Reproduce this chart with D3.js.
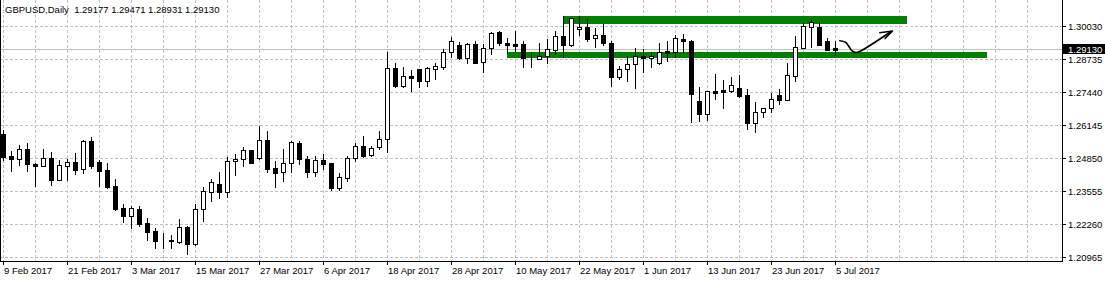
<!DOCTYPE html>
<html>
<head>
<meta charset="utf-8">
<script src="https://cdn.jsdelivr.net/npm/d3@7"></script>
<style>
  html, body { margin: 0; padding: 0; background: #fff; }
  svg { display: block; }
  text { font-family: "Liberation Sans", Arial, sans-serif; font-size: 9.5px; fill: #000; }
</style>
</head>
<body>
<svg id="chart"></svg>
<script>
// GBPUSD daily bars, 9 Feb 2017 .. 5 Jul 2017
var opens = [
  1.25805, 1.24939, 1.24809, 1.25203, 1.24624, 1.24534, 1.24849, 1.24006, 1.24557, 1.24691,
  1.24416, 1.25530, 1.24691, 1.24388, 1.23758, 1.22880, 1.22589, 1.22853, 1.22290, 1.21987,
  1.21632, 1.21632, 1.21542, 1.22156, 1.21463, 1.22841, 1.23522, 1.23837, 1.23510, 1.24731,
  1.24809, 1.25164, 1.24861, 1.25557, 1.24455, 1.24298, 1.24652, 1.25451, 1.24809, 1.24321,
  1.24770, 1.24676, 1.23691, 1.24085, 1.24849, 1.25321, 1.24979, 1.25282, 1.25597, 1.28392,
  1.27707, 1.28089, 1.28365, 1.27904, 1.28376, 1.28455, 1.29022, 1.29309, 1.28809, 1.29349,
  1.28621, 1.29179, 1.29809, 1.29388, 1.29349, 1.29349, 1.28809, 1.28770, 1.28876, 1.29124,
  1.29664, 1.29321, 1.29928, 1.30006, 1.29573, 1.29703, 1.29376, 1.28038, 1.28353, 1.28550,
  1.28876, 1.28786, 1.28589, 1.29073, 1.29046, 1.29534, 1.29479, 1.27105, 1.26581, 1.27498,
  1.27538, 1.27510, 1.27605, 1.27341, 1.26227, 1.26660, 1.26817, 1.27329, 1.27144, 1.28101,
  1.29203, 1.30006, 1.30006, 1.29467, 1.29177
];
var highs = [
  1.25963, 1.25148, 1.25372, 1.25439, 1.24664, 1.25203, 1.25085, 1.24782, 1.24809, 1.25046,
  1.25569, 1.25699, 1.24782, 1.24676, 1.24034, 1.23050, 1.22971, 1.22971, 1.22510, 1.22117,
  1.21896, 1.21829, 1.22459, 1.22183, 1.23038, 1.23731, 1.24034, 1.24321, 1.24900, 1.25018,
  1.25305, 1.25164, 1.26120, 1.25924, 1.24754, 1.25215, 1.25530, 1.25530, 1.24939, 1.24939,
  1.25030, 1.24676, 1.24282, 1.24939, 1.25439, 1.25715, 1.25333, 1.25924, 1.29046, 1.28613,
  1.28455, 1.28325, 1.28365, 1.28455, 1.28613, 1.29152, 1.29636, 1.29416, 1.29400, 1.29467,
  1.29330, 1.29821, 1.29872, 1.29573, 1.29861, 1.29467, 1.29034, 1.29400, 1.29534, 1.29872,
  1.30451, 1.30361, 1.30451, 1.30333, 1.29967, 1.30136, 1.29479, 1.28483, 1.28876, 1.29179,
  1.29140, 1.29022, 1.29376, 1.29467, 1.29703, 1.29742, 1.29490, 1.27668, 1.27498, 1.28168,
  1.27931, 1.28061, 1.28128, 1.27577, 1.27053, 1.26817, 1.27408, 1.27565, 1.28589, 1.29664,
  1.30164, 1.30294, 1.30227, 1.29573, 1.29471
];
var lows = [
  1.24782, 1.24360, 1.24585, 1.24360, 1.23770, 1.24534, 1.23798, 1.23994, 1.23994, 1.24219,
  1.24258, 1.24455, 1.23770, 1.23679, 1.22813, 1.22353, 1.22093, 1.22183, 1.21632, 1.21329,
  1.21305, 1.21329, 1.21530, 1.21069, 1.21450, 1.22392, 1.23179, 1.23298, 1.23337, 1.24191,
  1.24557, 1.24652, 1.24833, 1.24321, 1.23731, 1.23967, 1.24298, 1.24612, 1.24124, 1.24164,
  1.24428, 1.23601, 1.23601, 1.23967, 1.24754, 1.24900, 1.24951, 1.25203, 1.25109, 1.27668,
  1.27668, 1.27498, 1.27668, 1.27707, 1.27971, 1.28365, 1.28849, 1.28758, 1.28613, 1.28600,
  1.28258, 1.28955, 1.29298, 1.28983, 1.29085, 1.28455, 1.28431, 1.28760, 1.28613, 1.28955,
  1.28849, 1.29270, 1.29703, 1.29479, 1.29242, 1.29309, 1.27707, 1.27971, 1.27904, 1.27628,
  1.28258, 1.28431, 1.28580, 1.28691, 1.28849, 1.29046, 1.26290, 1.26317, 1.26357, 1.27183,
  1.26841, 1.27471, 1.27274, 1.25991, 1.25896, 1.26486, 1.26683, 1.26987, 1.27130, 1.27904,
  1.29190, 1.29219, 1.29300, 1.29100, 1.28931
];
var closes = [
  1.24912, 1.24809, 1.25203, 1.24612, 1.24534, 1.24849, 1.23994, 1.24585, 1.24691, 1.24388,
  1.25530, 1.24557, 1.24360, 1.23707, 1.22841, 1.22589, 1.22880, 1.22262, 1.21959, 1.21605,
  1.21640, 1.21581, 1.22132, 1.21463, 1.22841, 1.23561, 1.23916, 1.23534, 1.24742, 1.24809,
  1.25164, 1.24676, 1.25557, 1.24428, 1.24282, 1.24664, 1.25479, 1.24809, 1.24321, 1.24770,
  1.24636, 1.23668, 1.24101, 1.24849, 1.25321, 1.24951, 1.25254, 1.25609, 1.28392, 1.27707,
  1.28089, 1.28022, 1.27904, 1.28392, 1.28471, 1.29022, 1.29467, 1.28809, 1.29349, 1.28613,
  1.29179, 1.29770, 1.29376, 1.29321, 1.29282, 1.28809, 1.28815, 1.28888, 1.29152, 1.29664,
  1.29321, 1.30361, 1.30006, 1.29546, 1.29691, 1.29376, 1.28038, 1.28353, 1.28550, 1.28876,
  1.28786, 1.28865, 1.29022, 1.29006, 1.29573, 1.29479, 1.27368, 1.26581, 1.27498, 1.27431,
  1.27479, 1.27723, 1.27313, 1.26250, 1.26660, 1.26817, 1.27172, 1.27144, 1.28116, 1.29219,
  1.30057, 1.30227, 1.29309, 1.29113, 1.29130
];

var priceTicks = [1.30030, 1.28735, 1.27440, 1.26145, 1.24850, 1.23555, 1.22260, 1.20965];
var dateTicks = ['9 Feb 2017', '21 Feb 2017', '3 Mar 2017', '15 Mar 2017', '27 Mar 2017',
  '6 Apr 2017', '18 Apr 2017', '28 Apr 2017', '10 May 2017', '22 May 2017', '1 Jun 2017',
  '13 Jun 2017', '23 Jun 2017', '5 Jul 2017'];
var lastPrice = 1.29130;

// rectangles drawn on the chart (support / resistance)
var zoneStart = ['9 May 2017', '18 May 2017'];
var zoneEnd = ['1 Aug 2017', '18 Jul 2017'];
var zoneTop = [1.29034, 1.30451];
var zoneBottom = [1.28797, 1.30136];

// hand drawn arrow, in bar index / price
var arrowLine = [[104.6, 1.29479], [105.3, 1.29420], [105.7, 1.29270], [106.1, 1.29085],
  [106.5, 1.29020], [106.9, 1.29030], [111.0, 1.29840]];
var arrowHead = [[109.6, 1.29794], [111.2, 1.29861], [110.25, 1.29573]];

var W = 1105, H = 282;
var plotRight = 1062, plotBottom = 261;

// business days from the first bar on
var fmt = d3.timeFormat('%-d %b %Y');
var days = d3.timeDays(new Date(2017, 1, 9), new Date(2017, 8, 1))
  .filter(function(d){ return d.getDay() !== 0 && d.getDay() !== 6; });
var dayIndex = {};
days.forEach(function(d, i){ dayIndex[fmt(d)] = i; });

var x = d3.scaleLinear().domain([0, 132]).range([3, 1059]);
var y = d3.scaleLinear().domain([1.20965, 1.30030]).range([257, 26.7]);

var svg = d3.select('#chart').attr('width', W).attr('height', H);

function px(v){ return Math.round(v); }

// grid
var grid = svg.append('g')
  .attr('stroke', '#c0c0c0')
  .attr('stroke-dasharray', '3,2')
  .attr('shape-rendering', 'crispEdges');

grid.selectAll('line.h')
  .data(priceTicks)
  .enter().append('line')
    .attr('x1', 0).attr('x2', plotRight)
    .attr('y1', function(d){ return Math.floor(y(d)) + 0.5; })
    .attr('y2', function(d){ return Math.floor(y(d)) + 0.5; });

grid.selectAll('line.v')
  .data(d3.range(0, 132, 4))
  .enter().append('line')
    .attr('x1', function(d){ return px(x(d)) + 0.5; })
    .attr('x2', function(d){ return px(x(d)) + 0.5; })
    .attr('y1', 0).attr('y2', plotBottom);

// current price line
svg.append('line')
  .attr('x1', 0).attr('x2', plotRight)
  .attr('y1', Math.floor(y(lastPrice)) + 0.5)
  .attr('y2', Math.floor(y(lastPrice)) + 0.5)
  .attr('stroke', '#c0c0c0')
  .attr('shape-rendering', 'crispEdges');

// zones
svg.selectAll('rect.zone')
  .data(zoneTop)
  .enter().append('rect')
    .attr('class', 'zone')
    .attr('x', function(d, i){ return px(x(dayIndex[zoneStart[i]])); })
    .attr('width', function(d, i){ return px(x(dayIndex[zoneEnd[i]])) - px(x(dayIndex[zoneStart[i]])); })
    .attr('y', function(d){ return px(y(d)); })
    .attr('height', function(d, i){ return px(y(zoneBottom[i])) - px(y(d)); })
    .attr('fill', '#008000');

// candles
var bars = opens.map(function(o, i){
  return { i: i, o: o, h: highs[i], l: lows[i], c: closes[i] };
});

var candle = svg.append('g')
  .attr('shape-rendering', 'crispEdges')
  .selectAll('g')
  .data(bars)
  .enter().append('g');

candle.append('line')
  .attr('x1', function(d){ return px(x(d.i)) + 0.5; })
  .attr('x2', function(d){ return px(x(d.i)) + 0.5; })
  .attr('y1', function(d){ return px(y(d.h)); })
  .attr('y2', function(d){ return px(y(d.l)) + 1; })
  .attr('stroke', '#000');

candle.append('rect')
  .attr('x', function(d){ return px(x(d.i)) - 1.5; })
  .attr('width', 4)
  .attr('y', function(d){ return px(y(Math.max(d.o, d.c))) + 0.5; })
  .attr('height', function(d){ return px(y(Math.min(d.o, d.c))) - px(y(Math.max(d.o, d.c))); })
  .attr('fill', function(d){ return d.c >= d.o ? '#fff' : '#000'; })
  .attr('stroke', '#000');

// arrow
var arrowGen = d3.line()
  .x(function(d){ return x(d[0]); })
  .y(function(d){ return y(d[1]); })
  .curve(d3.curveCatmullRom);

svg.append('path')
  .attr('d', arrowGen(arrowLine))
  .attr('fill', 'none').attr('stroke', '#000').attr('stroke-width', 1.6)
  .attr('stroke-linecap', 'round');
svg.append('path')
  .attr('d', d3.line().x(function(d){ return x(d[0]); }).y(function(d){ return y(d[1]); })(arrowHead))
  .attr('fill', 'none').attr('stroke', '#000').attr('stroke-width', 1.6)
  .attr('stroke-linecap', 'round').attr('stroke-linejoin', 'round');

// frame / axes
svg.append('path')
  .attr('d', 'M0.5,0V' + (plotBottom + 0.5) + 'H' + (plotRight + 0.5) + 'V0')
  .attr('fill', 'none').attr('stroke', '#000')
  .attr('shape-rendering', 'crispEdges');

var yAxis = svg.append('g');
yAxis.selectAll('line')
  .data(priceTicks)
  .enter().append('line')
    .attr('x1', plotRight).attr('x2', plotRight + 4)
    .attr('y1', function(d){ return Math.floor(y(d)) + 0.5; })
    .attr('y2', function(d){ return Math.floor(y(d)) + 0.5; })
    .attr('stroke', '#000')
    .attr('shape-rendering', 'crispEdges');
yAxis.selectAll('text')
  .data(priceTicks)
  .enter().append('text')
    .attr('x', plotRight + 6)
    .attr('y', function(d){ return Math.floor(y(d)) + 4; })
    .text(function(d){ return d.toFixed(5); });

// last price label
var ly = Math.floor(y(lastPrice));
svg.append('rect')
  .attr('x', plotRight + 1).attr('y', ly - 5)
  .attr('width', W - plotRight - 1).attr('height', 10)
  .attr('fill', '#000');
svg.append('text')
  .attr('x', plotRight + 6).attr('y', ly + 4)
  .style('fill', '#fff')
  .text(lastPrice.toFixed(5));

var xAxis = svg.append('g');
xAxis.selectAll('line')
  .data(dateTicks)
  .enter().append('line')
    .attr('x1', function(d){ return px(x(dayIndex[d])) + 0.5; })
    .attr('x2', function(d){ return px(x(dayIndex[d])) + 0.5; })
    .attr('y1', plotBottom).attr('y2', plotBottom + 4)
    .attr('stroke', '#000')
    .attr('shape-rendering', 'crispEdges');
xAxis.selectAll('text')
  .data(dateTicks)
  .enter().append('text')
    .attr('x', function(d){ return px(x(dayIndex[d])) + 1; })
    .attr('y', plotBottom + 13)
    .text(function(d){ return d; });

// header
var last = opens.length - 1;
svg.append('text')
  .attr('x', 5).attr('y', 13)
  .style('white-space', 'pre')
  .text('GBPUSD,Daily  ' + [opens[last], highs[last], lows[last], closes[last]]
    .map(function(v){ return v.toFixed(5); }).join(' '));
</script>
</body>
</html>
